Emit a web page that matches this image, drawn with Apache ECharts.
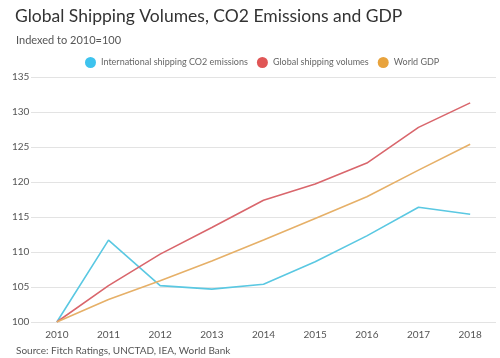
<!DOCTYPE html>
<html><head><meta charset="utf-8">
<script src="https://cdn.jsdelivr.net/npm/echarts@6/dist/echarts.min.js"></script>
<style>html,body{margin:0;padding:0;background:#fff}#c{width:500px;height:358px}</style>
</head><body><div id="c"></div>
<script>
const years = ['2010','2011','2012','2013','2014','2015','2016','2017','2018'];
const co2 = [100, 111.7, 105.2, 104.7, 105.4, 108.6, 112.3, 116.4, 115.4];
const shipping = [100, 105.2, 109.7, 113.5, 117.4, 119.7, 122.7, 127.8, 131.3];
const gdp = [100, 103.2, 105.9, 108.7, 111.7, 114.8, 117.9, 121.7, 125.4];
const yTicks = [100, 105, 110, 115, 120, 125, 130, 135];
const FONT = 'Lato';
const chart = echarts.init(document.getElementById('c'), null, {renderer:'canvas'});
chart.setOption({
  animation:false,
  textStyle:{fontFamily:FONT},
  title:[
    {text:'Global Shipping Volumes, CO2 Emissions and GDP', left:10, top:2,
     textStyle:{fontFamily:FONT, fontSize:17.5, fontWeight:'normal', color:'#333'}},
    {text:'Indexed to 2010=100', left:11, top:30,
     textStyle:{fontFamily:FONT, fontSize:11, fontWeight:'normal', color:'#555'}},
    {text:'Source: Fitch Ratings, UNCTAD, IEA, World Bank', left:11, top:341,
     textStyle:{fontFamily:FONT, fontSize:10, fontWeight:'normal', color:'#555'}}
  ],
  legend:{
    left:80, top:52, icon:'circle', itemWidth:11, itemHeight:11, itemGap:9,
    textStyle:{fontFamily:FONT, fontSize:9, color:'#666', padding:[0,0,0,0]},
    data:['International shipping CO2 emissions','Global shipping volumes','World GDP']
  },
  grid:{left:31, right:4, top:77, bottom:36},
  xAxis:{type:'category', data:years, boundaryGap:true,
    axisLine:{show:false}, axisTick:{show:false},
    axisLabel:{color:'#555', fontSize:10, margin:8}},
  yAxis:{type:'value', min:100, max:135, interval:5,
    axisLine:{show:false}, axisTick:{show:false},
    splitLine:{lineStyle:{color:'#e3e3e3', width:1}},
    axisLabel:{color:'#555', fontSize:10, align:'left', margin:19,
      formatter:v=>yTicks.includes(v)?String(v):''}},
  series:[
    {name:'International shipping CO2 emissions', type:'line', data:co2, symbol:'none',
     color:'#3ec3ee', lineStyle:{color:'#5ac8e2', width:1.6}},
    {name:'Global shipping volumes', type:'line', data:shipping, symbol:'none',
     color:'#e05656', lineStyle:{color:'#d9666c', width:1.6}},
    {name:'World GDP', type:'line', data:gdp, symbol:'none',
     color:'#e8a33d', lineStyle:{color:'#e6b068', width:1.6}}
  ]
});
</script></body></html>
